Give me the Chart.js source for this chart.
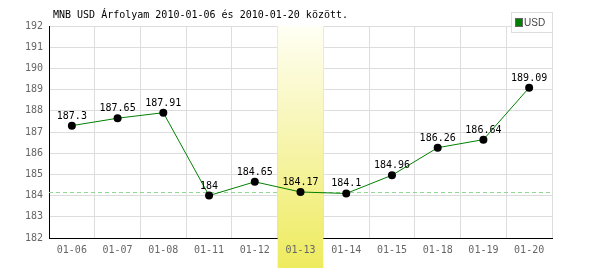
<!DOCTYPE html>
<html>
<head>
<meta charset="utf-8">
<script src="https://cdn.jsdelivr.net/npm/chart.js@4"></script>
<style>
  html, body { margin: 0; padding: 0; background: #fff; }
  #wrap { width: 600px; height: 270px; position: relative; }
</style>
</head>
<body>
<div id="wrap"><canvas id="rateChart"></canvas></div>
<script>
// Chart values
const days = ['01-06', '01-07', '01-08', '01-11', '01-12', '01-13', '01-14', '01-15', '01-18', '01-19', '01-20'];
const usdRates = [187.3, 187.65, 187.91, 184, 184.65, 184.17, 184.1, 184.96, 186.26, 186.64, 189.09];
const yTicks = [182, 183, 184, 185, 186, 187, 188, 189, 190, 191, 192];
const highlightIndex = 5;      // 01-13
const referenceRate = 184.17;  // dashed line

const titleText = 'MNB USD Árfolyam 2010-01-06 és 2010-01-20 között.';
const monoFont = '"DejaVu Sans Mono", "Liberation Mono", monospace';

// highlighted day column + dashed reference line + relabel of highlighted tick
const highlightPlugin = {
    id: 'highlight',
    beforeDatasetsDraw(chart) {
        const { ctx, chartArea, scales } = chart;
        const x = scales.x, y = scales.y;
        const half = (x.getPixelForValue(1) - x.getPixelForValue(0)) / 2;
        const cx = x.getPixelForValue(highlightIndex);
        const left = cx - half, right = cx + half;
        const top = chartArea.top, bottom = 268;

        // dashed line
        const ry = y.getPixelForValue(referenceRate);
        ctx.save();
        ctx.strokeStyle = '#90d890';
        ctx.lineWidth = 1;
        ctx.setLineDash([4, 3]);
        ctx.beginPath();
        ctx.moveTo(chartArea.left, Math.round(ry) + 0.5);
        ctx.lineTo(chartArea.right, Math.round(ry) + 0.5);
        ctx.stroke();
        ctx.restore();

        // band
        const grad = ctx.createLinearGradient(0, top, 0, bottom);
        grad.addColorStop(0, '#fffff4');
        grad.addColorStop(0.35, '#f9f7c0');
        grad.addColorStop(1, '#eeeb5e');
        ctx.save();
        ctx.fillStyle = grad;
        ctx.fillRect(left, top, right - left, bottom - top);
        ctx.restore();

        // tick label that the band covered
        if (typeof x.drawLabels === 'function') {
            ctx.save();
            ctx.beginPath();
            ctx.rect(left, chartArea.bottom + 1, right - left, bottom - chartArea.bottom);
            ctx.clip();
            x.drawLabels(chartArea);
            ctx.restore();
        }
    },
    afterDatasetsDraw(chart) {
        const { ctx } = chart;
        const meta = chart.getDatasetMeta(0);
        ctx.save();
        ctx.font = '10px ' + monoFont;
        ctx.fillStyle = '#000';
        ctx.textAlign = 'center';
        ctx.textBaseline = 'alphabetic';
        meta.data.forEach((pt, i) => {
            ctx.fillText(String(usdRates[i]), pt.x, pt.y - 7);
        });
        ctx.restore();
    },
    afterDraw(chart) {
        const { ctx } = chart;
        ctx.save();
        // title
        ctx.font = '10px ' + monoFont;
        ctx.fillStyle = '#000';
        ctx.textAlign = 'left';
        ctx.textBaseline = 'alphabetic';
        ctx.fillText(titleText, 53, 18);

        // legend box
        ctx.fillStyle = '#fff';
        ctx.fillRect(511, 12, 41, 20);
        ctx.strokeStyle = '#dddddd';
        ctx.lineWidth = 1;
        ctx.strokeRect(511.5, 12.5, 41, 20);
        ctx.fillStyle = '#008000';
        ctx.fillRect(516, 19, 6, 7);
        ctx.strokeStyle = '#666';
        ctx.strokeRect(515.5, 18.5, 7, 8);
        ctx.fillStyle = '#444';
        ctx.font = '10px "Liberation Sans Narrow", "Liberation Sans", sans-serif';
        ctx.fillText('USD', 524, 26);
        ctx.restore();
    }
};

new Chart(document.getElementById('rateChart'), {
    type: 'line',
    data: {
        labels: days,
        datasets: [{
            label: 'USD',
            data: usdRates,
            borderColor: '#008000',
            borderWidth: 1,
            tension: 0,
            pointRadius: 4,
            pointHoverRadius: 4,
            pointBackgroundColor: '#000',
            pointBorderColor: '#000',
            pointBorderWidth: 0
        }]
    },
    options: {
        responsive: true,
        maintainAspectRatio: false,
        animation: false,
        layout: { padding: { left: 0, top: 26, right: 48, bottom: 0 } },
        scales: {
            x: {
                offset: true,
                grid: { color: '#dddddd', offset: true, drawTicks: false },
                border: { color: '#000', width: 1 },
                ticks: { color: '#666', font: { family: monoFont, size: 10 }, padding: 6, maxRotation: 0 },
                afterFit(scale) { scale.height = 32; }
            },
            y: {
                min: yTicks[0],
                max: yTicks[yTicks.length - 1],
                afterBuildTicks(scale) { scale.ticks = yTicks.map(v => ({ value: v })); },
                grid: { color: '#dddddd', drawTicks: false },
                border: { color: '#000', width: 1 },
                ticks: { color: '#666', font: { family: monoFont, size: 10 }, padding: 6 },
                afterFit(scale) { scale.width = 49; }
            }
        },
        plugins: {
            legend: { display: false },
            tooltip: { enabled: false }
        }
    },
    plugins: [highlightPlugin]
});
</script>
</body>
</html>
